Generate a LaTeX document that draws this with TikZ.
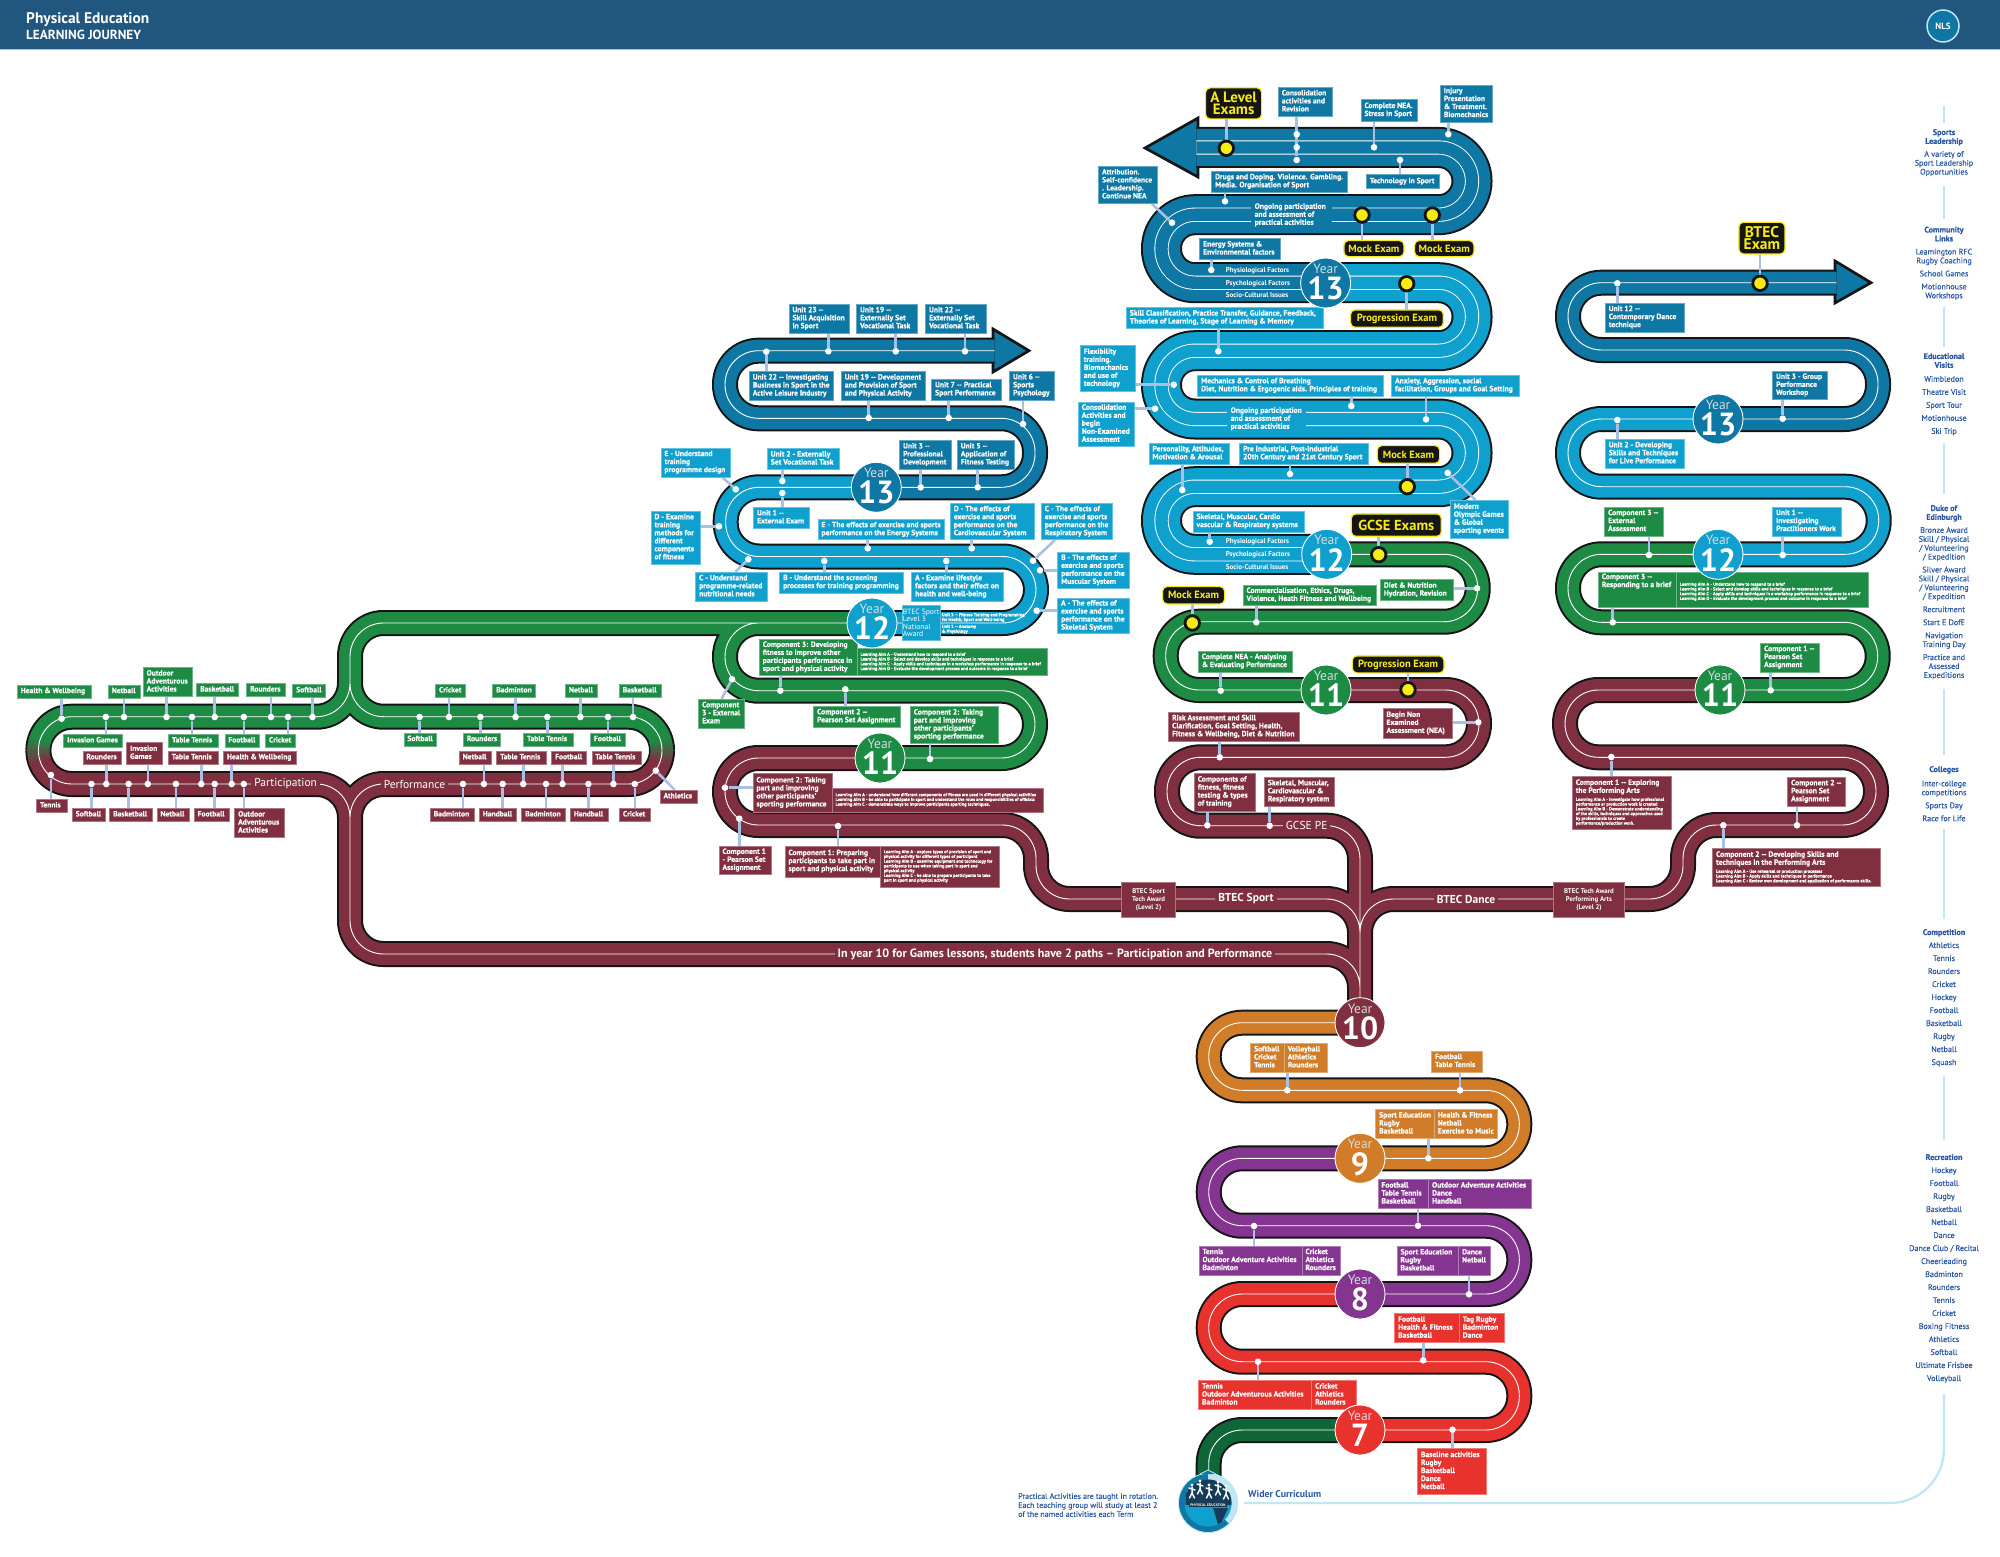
\documentclass[tikz,border=0pt]{standalone}
\usepackage{fontspec}
\setmainfont{PT Sans}
\newfontfamily\rcfont[FakeBold=0.3]{PT Sans}
\newfontfamily\bxfam[BoldFeatures={FakeBold=0.4}]{PT Sans}
\usetikzlibrary{calc}
\pgfdeclarelayer{track}\pgfdeclarelayer{cn}
\pgfsetlayers{track,cn,main}
\definecolor{cdark}{HTML}{0F77A3}\definecolor{clight}{HTML}{10A0CE}\definecolor{cgreen}{HTML}{1E8B45}
\definecolor{cmaroon}{HTML}{7F2F40}\definecolor{corange}{HTML}{D07C28}\definecolor{cpurple}{HTML}{84358F}
\definecolor{cred}{HTML}{E8322D}\definecolor{cdgreen}{HTML}{0F6636}\definecolor{chead}{HTML}{21567F}
\definecolor{ctext}{HTML}{2B57A5}\definecolor{cconn}{HTML}{A9C0E4}\definecolor{cpale}{HTML}{BFE6F5}
\definecolor{cyel}{HTML}{F9EA14}\definecolor{cblk}{HTML}{151515}\definecolor{cyear}{HTML}{D5DCE0}
\def\bxfontN{\bxfam\fontsize{7.6}{8}\selectfont\bfseries}
\def\bxfontS{\bxfam\fontsize{4.5}{4.75}\selectfont\bfseries}
\let\bxfont\bxfontN
\newcommand{\sm}[1]{\fontsize{4.5}{4.75}\selectfont\begin{tabular}[t]{@{}l@{}}#1\end{tabular}}
\tikzset{
 tb/.style={line width=26pt,draw=cblk,rounded corners=33.5pt},
 tf/.style={line width=22pt,rounded corners=33.5pt},
 tw/.style={line width=.9pt,draw=white,rounded corners=33.5pt},
 wb/.style={line width=41pt,draw=cblk,rounded corners=33.5pt},
 wf/.style={line width=37pt,rounded corners=33.5pt},
 wl/.style={line width=14.2pt,draw=white,rounded corners=33.5pt},
 wg/.style={line width=12.4pt,rounded corners=33.5pt},
 conn/.style={line width=2.6pt,draw=cconn},
 boxn/.style={inner sep=0pt,font=\bxfont,text=white},
 wdot/.style={circle,fill=white,inner sep=0pt,minimum size=6.6pt},
 ydot/.style={circle,fill=cyel,draw=cblk,line width=2.8pt,inner sep=0pt,minimum size=14.5pt},
 pilln/.style={fill=cblk,draw=cyel,line width=1.2pt,rounded corners=4.5pt,inner sep=0pt,text=cyel,align=center},
 trklab/.style={font=\fontsize{11.5}{12}\selectfont,text=white,inner xsep=3pt,inner ysep=0pt},
 factn/.style={font=\fontsize{7}{8}\selectfont\bfseries,text=white,anchor=west,inner sep=0pt},
 rtxt/.style={font=\rcfont\fontsize{8.1}{8.9}\selectfont,text=ctext,align=center,anchor=north,inner sep=0pt},
 rline/.style={line width=2.3pt,draw=cpale},
 yrc/.style={circle,draw=white,line width=0.9pt,inner sep=0pt,minimum size=50pt},
 yrw/.style={font=\fontsize{13.5}{14}\selectfont,text=cyear,inner sep=0pt},
 yrn/.style={font=\fontsize{32}{32}\selectfont\bfseries,text=white,inner sep=0pt},
}
\newcommand{\tr}[2]{\draw[tb]#2;\draw[tf,draw=#1]#2;\draw[tw]#2;}
\newcommand{\trw}[2]{\draw[wb]#2;\draw[wf,draw=#1]#2;\draw[wl]#2;\draw[wg,draw=#1]#2;}
\newcommand{\bx}[7]{\pgfmathsetmacro\rsW{#5-#3}\pgfmathsetmacro\rsH{#6-#4}%
 \node[boxn,fill=#2,draw=#2!65!white,line width=.6pt,minimum width=\rsW pt,minimum height=\rsH pt,anchor=north west] (#1) at (#3,#4)
 {\makebox[\rsW pt][l]{\hspace{3.5pt}\begin{tabular}{@{}l@{}}#7\end{tabular}}};}
\newcommand{\bl}[7]{\pgfmathsetmacro\rsW{#5-#3}\pgfmathsetmacro\rsH{#6-#4}%
 \node[boxn,fill=#2,minimum width=\rsW pt,minimum height=\rsH pt,anchor=north west] (#1) at (#3,#4)
 {\makebox[\rsW pt][l]{\hspace{3.5pt}\begin{tabular}{@{}l@{}}#7\end{tabular}}};}
\newcommand{\cv}[9]{\bx{#1}{#2}{#3}{#4}{#5}{#6}{#9}\node[wdot] (#1d) at (#7,#8) {};%
 \begin{pgfonlayer}{cn}\draw[conn] (#1d) -- (#1d |- #1);\end{pgfonlayer}}
\newcommand{\ch}[9]{\bx{#1}{#2}{#3}{#4}{#5}{#6}{#9}\node[wdot] (#1d) at (#7,#8) {};%
 \begin{pgfonlayer}{cn}\draw[conn] (#1d) -- (#1d -| #1);\end{pgfonlayer}}
\newcommand{\cdg}[9]{\bx{#1}{#2}{#3}{#4}{#5}{#6}{#9}\node[wdot] (#1d) at (#7,#8) {};}
\newcommand{\dl}[2]{\begin{pgfonlayer}{cn}\draw[conn] (#1d) -- (#2);\end{pgfonlayer}}
\newcommand{\pl}[9]{\pgfmathsetmacro\rsW{#4-#2}\pgfmathsetmacro\rsH{#5-#3}\pgfmathsetmacro\rsL{#6*.8}%
 \node[pilln,font=\fontsize{#6}{\rsL}\selectfont\bfseries,minimum width=\rsW pt,minimum height=\rsH pt,anchor=north west] (#1) at (#2,#3) {#9};%
 \node[ydot] (#1d) at (#7,#8) {};%
 \begin{pgfonlayer}{cn}\draw[conn] (#1d) -- (#1d |- #1);\end{pgfonlayer}}
\newcommand{\yr}[5]{\node[yrc,fill=#4] (#1) at (#2,#3) {};
 \node[yrw] (#1w) at ($(#1)+(0,-14.3)$) {Year};
 \node[yrn] (#1n) at ($(#1)+(0,5.5)$) {#5};}
\newcommand{\rc}[3]{\node[rtxt] (#1) at (1944,#2) {#3};}
\begin{document}
\begin{tikzpicture}[x=1pt,y=-1pt]
\useasboundingbox (0,0) rectangle (2000,1557);
\begin{pgfonlayer}{track}
% header
\fill[chead] (0,0) rectangle (2000,49);
\fill[cconn] (0,49) rectangle (2000,50);
% arrowheads
\draw[line width=2.7pt,draw=cblk,fill=cdark,line join=miter] (1145,148)--(1198,118)--(1198,177)--cycle;
\draw[line width=2.7pt,draw=cblk,fill=cdark,line join=miter] (1029,350.7)--(993,329)--(993,372)--cycle;
\draw[line width=2.7pt,draw=cblk,fill=cdark,line join=miter] (1871,282.7)--(1835,261)--(1835,303)--cycle;
% A level
\trw{cdark}{(1196.4,147.5)--(1472,147.5)--(1472,214.7)--(1161.5,214.7)--(1161.5,282.7)--(1325.6,282.7)}
\trw{clight}{(1325.6,282.7)--(1472,282.7)--(1472,350.7)--(1161.5,350.7)--(1161.5,419)--(1472,419)--(1472,486.7)--(1161.5,486.7)--(1161.5,554.3)--(1326.7,554.3)}
\tr{cgreen}{(1326.7,554.3)--(1477.7,554.3)--(1477.7,621.7)--(1165.7,621.7)--(1165.7,690)--(1326,690)}
% BTEC Sport upper
\tr{cdark}{(994.6,350.7)--(725,350.7)--(725,418.3)--(1035,418.3)--(1035,487.3)--(876.3,487.3)}
\tr{clight}{(876.3,487.3)--(725.7,487.3)--(725.7,556.5)--(1036,556.5)--(1036,623)--(872,623)}
% BTEC Dance upper
\tr{cdark}{(1836.6,282.7)--(1568,282.7)--(1568,350)--(1878,350)--(1878,419)--(1718,419)}
\tr{clight}{(1718,419)--(1568,419)--(1568,486.7)--(1878.7,486.7)--(1878.7,554.3)--(1718,554.3)}
\tr{cgreen}{(1718,554.3)--(1568,554.3)--(1568,622.3)--(1877.7,622.3)--(1877.7,690)--(1720,690)}
% Lower years
\tr{corange}{(1360,1022.7)--(1208.7,1022.7)--(1208.7,1090.3)--(1519.3,1090.3)--(1519.3,1158.3)--(1360,1158.3)}
\tr{cpurple}{(1360,1158.3)--(1208.7,1158.3)--(1208.7,1225.7)--(1519.3,1225.7)--(1519.3,1294)--(1360,1294)}
\tr{cred}{(1360,1294)--(1208.7,1294)--(1208.7,1361.7)--(1519.3,1361.7)--(1519.3,1430)--(1360,1430)}
\tr{cdgreen}{(1360,1430)--(1208.7,1430)--(1208.7,1482)}
% networks
\def\gnet{(872,623)--(350,623)--(350,716.7)--(38.4,716.7)--(38.4,750.35)
 (350,665)--(350,716.7)--(662,716.7)--(662,750.35)
 (880,758)--(1035,758)--(1035,690.7)--(725,690.7)--(725,623)--(800,623)}
\def\mnet{(38.4,750.35)--(38.4,784)--(350,784)--(350,954)--(1360,954)--(1360,1005)
 (662,750.35)--(662,784)--(350,784)--(350,870)
 (880,758)--(725,758)--(725,825)--(1036,825)--(1036,899)--(1360,899)--(1360,1005)
 (1720,690)--(1565,690)--(1565,757.3)--(1876,757.3)--(1876,825)--(1683,825)--(1683,899)--(1360,899)--(1360,960)
 (1326,690)--(1479,690)--(1479,757.3)--(1167,757.3)--(1167,825.7)--(1360,825.7)--(1360,960)}
\draw[tb]\gnet;\draw[tb]\mnet;
\draw[tf,draw=cgreen]\gnet;\draw[tf,draw=cmaroon]\mnet;
\foreach \i in {0,...,19}{
 \pgfmathsetmacro\aa{200-2*\i}\pgfmathsetmacro\ab{\aa-2.6}\pgfmathsetmacro\pp{100-5*\i}
 \draw[line width=22pt,draw=cgreen!\pp!cmaroon] ({72+33.65*cos(\aa)},{750.35+33.65*sin(\aa)})--({72+33.65*cos(\ab)},{750.35+33.65*sin(\ab)});
 \pgfmathsetmacro\ac{-20+2*\i}\pgfmathsetmacro\ad{\ac+2.6}
 \draw[line width=22pt,draw=cgreen!\pp!cmaroon] ({628+33.65*cos(\ac)},{750.35+33.65*sin(\ac)})--({628+33.65*cos(\ad)},{750.35+33.65*sin(\ad)});
}
\draw[tw]\gnet;\draw[tw]\mnet;
\end{pgfonlayer}
% right-hand line
\coordinate (wcs) at (1244,1503);\coordinate (wcc) at (1944,1503);\coordinate (wce) at (1944,1394.7);
\draw[rline,rounded corners=54pt] (wcs)--(wcc)--(wce);
\foreach \p/\q in {105.7/123,186/219.4,306.7/346.8,443/494,689/755,829.4/919,1075.5/1139.6}{\draw[rline] (1944,\p)--(1944,\q);}
% header text
\node[inner sep=0pt,anchor=west,text=white,font=\fontsize{15.4}{16}\selectfont\bfseries] (htitle) at (26,20) {Physical Education};
\node[inner sep=0pt,anchor=west,text=white,font=\fontsize{13.2}{14}\selectfont\bfseries] (hsub) at (26,35) {LEARNING JOURNEY};
\node[circle,fill=cdark,draw=cpale,line width=1.5pt,minimum size=32pt,inner sep=0pt,text=white,font=\fontsize{9}{9}\selectfont\bfseries] (nls) at (1943,26) {NLS};
%% ===== A LEVEL =====
\pl{pA}{1205}{87.3}{1261}{118.3}{15}{1226.3}{148.3}{A Level\\Exams}
\cv{aCons}{cdark}{1278}{87.3}{1332}{115.7}{1296.7}{160}{Consolidation\\activities and\\Revision}
\node[wdot] (aConsb) at (1296.7,134.3) {};\node[wdot] (aConsc) at (1296.7,147.3) {};
\cv{aNEA}{cdark}{1360.7}{99.3}{1417.3}{121}{1374}{147.3}{Complete NEA.\\Stress in Sport}
\cv{aInj}{cdark}{1440}{84.7}{1492.3}{121.7}{1448.3}{134.3}{Injury\\Presentation\\\& Treatment.\\Biomechanics}
\cv{aTech}{cdark}{1366}{174.3}{1439.3}{188.3}{1400}{160}{Technology in Sport}
\cv{aDrug}{cdark}{1211.3}{171}{1346.7}{191.7}{1225}{201.3}{Drugs and Doping. Violence. Gambling.\\Media. Organisation of Sport}
\cdg{aAttr}{cdark}{1098.3}{165.7}{1157.3}{203.3}{1172}{222.7}{Attribution.\\Self-confidence\\. Leadership.\\Continue NEA}
\dl{aAttr}{[xshift=-6pt]aAttr.south east}
\cv{aEnergy}{cdark}{1199.3}{238}{1280}{259.3}{1211.3}{270}{Energy Systems \&\\Environmental factors}
\pl{pMa}{1343.3}{240}{1403.3}{256}{10.5}{1362}{215}{Mock Exam}
\pl{pMb}{1414}{240}{1473.3}{256}{10.5}{1432.3}{215}{Mock Exam}
\pl{pPa}{1350}{309.3}{1442.7}{326.7}{10.5}{1406.7}{283.7}{Progression Exam}
\cv{aSkill}{clight}{1126}{307.3}{1323.3}{328}{1218.3}{351.3}{Skill Classification, Practice Transfer, Guidance, Feedback,\\Theories of Learning, Stage of Learning \& Memory}
\ch{aFlex}{clight}{1080}{345.3}{1135}{390.7}{1173.7}{384.7}{Flexibility\\training.\\Biomechanics\\and use of\\technology}
\ch{aConsA}{clight}{1078}{401.7}{1134.3}{446}{1155}{408.7}{Consolidation\\Activities and\\begin\\Non-Examined\\Assessment}
\cv{aMech}{clight}{1197.3}{374.7}{1382.7}{396}{1351.3}{406}{Mechanics \& Control of Breathing\\Diet, Nutrition \& Ergogenic aids. Principles of training}
\cv{aAnx}{clight}{1391.3}{374.7}{1519.3}{396}{1426}{419.3}{Anxiety, Aggression, social\\facilitation, Groups and Goal Setting}
\cv{aPers}{clight}{1148.7}{442.7}{1229.3}{464}{1182.3}{490}{Personality, Attitudes,\\Motivation \& Arousal}
\cv{aPre}{clight}{1239.3}{442.7}{1367.7}{464}{1290}{474}{Pre Industrial, Post-industrial\\20th Century and 21st Century Sport}
\pl{pMc}{1376.7}{445}{1439}{462.7}{10.5}{1407.3}{486.7}{Mock Exam}
\cdg{aMod}{clight}{1450}{500}{1508.3}{537.7}{1447.7}{473}{Modern\\Olympic Games\\\& Global\\sporting events}
\dl{aMod}{[xshift=-4pt]aMod.north}
\cv{aSkel}{clight}{1192.7}{510.7}{1304}{531.7}{1209.7}{541.7}{Skeletal, Muscular, Cardio\\vascular \& Respiratory systems}
\pl{pG}{1350.7}{513.3}{1440.7}{535.7}{14.5}{1378.7}{554.7}{GCSE Exams}
\ch{aDiet}{cgreen}{1380}{579.3}{1452.7}{600.3}{1477}{588.3}{Diet \& Nutrition\\Hydration, Revision}
\pl{pMd}{1162}{586}{1224}{603.3}{10.5}{1192.3}{623}{Mock Exam}
\cv{aComm}{cgreen}{1242.7}{584.7}{1375.7}{605.3}{1256.3}{622.3}{Commercialisation, Ethics, Drugs,\\Violence, Heath Fitness and Wellbeing}
\cv{aCNEA}{cgreen}{1198}{650.7}{1291.7}{671.7}{1220.7}{690.7}{Complete NEA - Analysing\\\& Evaluating Performance}
\pl{pPb}{1351.7}{655.3}{1443.3}{672.3}{10.5}{1408}{689.7}{Progression Exam}
\ch{aBegin}{cmaroon}{1382.7}{708.3}{1452.3}{737.7}{1478.3}{722.3}{Begin Non\\Examined\\Assessment (NEA)}
\cv{aRisk}{cmaroon}{1168.3}{711.7}{1299}{741}{1219.7}{757.3}{Risk Assessment and Skill\\Clarification, Goal Setting, Health,\\Fitness \& Wellbeing, Diet \& Nutrition}
\cv{aComp}{cmaroon}{1194}{772.7}{1255}{810.7}{1207.3}{825.3}{Components of\\fitness, fitness\\testing \& types\\of training}
\cv{aSkM}{cmaroon}{1264}{776.7}{1333.7}{806}{1269.7}{825.7}{Skeletal, Muscular,\\Cardiovascular \&\\Respiratory system}
% band labels
\bl{lOnA}{cdark}{1251}{203}{1332}{227}{Ongoing participation\\and assessment of\\practical activities}
\bl{lOnB}{clight}{1227}{407}{1306}{431}{Ongoing participation\\and assessment of\\practical activities}
\node[factn] (fa) at (1225.7,270.3) {Physiological  Factors};
\node[factn] (fb) at (1225.7,283.3) {Psychological Factors};
\node[factn] (fc) at (1225.7,295.3) {Socio-Cultural Issues};
\node[factn] (fd) at (1225.7,541.7) {Physiological  Factors};
\node[factn] (fe) at (1225.7,554.7) {Psychological Factors};
\node[factn] (ff) at (1225.7,567.3) {Socio-Cultural Issues};
\node[trklab,fill=cmaroon] (lGCSE) at (1306.7,825.7) {GCSE PE};
%% ===== BTEC SPORT =====
\cv{sU23}{cdark}{788.7}{304}{849.3}{332.7}{828.3}{351.3}{Unit 23 --\\Skill Acquisition\\in Sport}
\cv{sU19}{cdark}{856.3}{304}{917}{332.7}{895.7}{351.3}{Unit 19 --\\Externally Set\\Vocational Task}
\cv{sU22}{cdark}{925.3}{304}{986.3}{332.7}{965}{351.3}{Unit 22 --\\Externally Set\\Vocational Task}
\cv{sU22b}{cdark}{749}{371.3}{833.3}{400}{766.3}{351.7}{Unit 22 -- Investigating\\Business in Sport in the\\Active Leisure Industry}
\cv{sU19b}{cdark}{841}{371.3}{925.3}{400}{868.7}{418}{Unit 19 -- Development\\and Provision of Sport\\and Physical Activity}
\cv{sU7}{cdark}{931.3}{378.7}{1000.7}{400}{948.7}{418}{Unit 7 -- Practical\\Sport Performance}
\cv{sU6}{cdark}{1009.3}{370.7}{1053.7}{400}{1023}{424}{Unit 6 --\\Sports\\Psychology}
\cv{sU3}{cdark}{899.3}{440}{950.7}{469}{920.7}{487.3}{Unit 3 --\\Professional\\Development}
\cv{sU5}{cdark}{957}{440}{1014}{469}{977.7}{487.3}{Unit 5 --\\Application of\\Fitness Testing}
\cdg{sEu}{clight}{660.7}{447.7}{729.7}{476.7}{735.7}{489.3}{E - Understand\\training\\programme design}
\dl{sEu}{[xshift=-8pt]sEu.south east}
\cv{sU2}{clight}{767}{448.3}{839.3}{469}{782.3}{481}{Unit 2 - Externally\\Set Vocational Task}
\cv{sU1}{clight}{753.3}{507.3}{809.3}{527.7}{782.3}{493}{Unit 1 --\\External Exam}
\ch{sDe}{clight}{650.7}{510.7}{700.3}{564}{719}{526.3}{D - Examine\\training\\methods for\\different\\components\\of fitness}
\cv{sEe}{clight}{817.7}{519.3}{944.3}{539.3}{867.7}{548.3}{E - The effects of exercise and sports\\performance on the Energy Systems}
\cv{sDf}{clight}{950}{503.3}{1033.7}{539.3}{971.7}{548.3}{D - The effects of\\exercise and sports\\performance on the\\Cardiovascular System}
\cdg{sCf}{clight}{1041}{503.3}{1112}{539.3}{1033}{560.7}{C - The effects of\\exercise and sports\\performance on the\\Respiratory System}
\dl{sCf}{[xshift=14pt]sCf.south west}
\ch{sBf}{clight}{1057.3}{552}{1129.3}{588}{1040}{570.3}{B - The effects of\\exercise and sports\\performance on the\\Muscular System}
\ch{sAf}{clight}{1057.3}{598}{1129.3}{633.3}{1036.7}{610.7}{A - The effects of\\exercise and sports\\performance on the\\Skeletal System}
\cdg{sCu}{clight}{695.3}{571.7}{767}{601}{748.3}{559.3}{C - Understand\\programme-related\\nutritional needs}
\dl{sCu}{[xshift=4pt]sCu.north}
\cv{sBu}{clight}{779.3}{571.7}{903.3}{592.7}{824.3}{561}{B - Understand the screening\\processes for training programming}
\cv{sAe}{clight}{911.3}{571.7}{1003}{601}{946.3}{561}{A - Examine lifestyle\\factors and their effect on\\health and well-being}
\node[boxn,fill=clight,draw=clight!65!white,line width=.6pt,minimum width=38.3pt,minimum height=35pt,anchor=north west,font=\fontsize{7.6}{7.5}\selectfont,align=left] (sBt) at (901.7,605) {BTEC Sport\\Level 3\\National\\Award};
\node[boxn,font=\bxfontS,align=left,anchor=west] (sUs) at (941.7,617.5) {Unit 3 -- Fitness Training and Programming\\for Health, Sport and Well-being};
\node[boxn,font=\bxfontS,align=left,anchor=west] (sUt) at (941.7,629.2) {Unit 1 -- Anatomy\\\& Physiology};
\cv{sC3}{cgreen}{759}{639}{856.7}{675}{780.3}{690.7}{Component 3: Developing\\fitness to improve other\\participants performance in\\sport and physical activity}
\let\bxfont\bxfontS
\bx{sC3a}{cgreen}{856.7}{648.3}{1046.7}{675}{Learning Aim A - Understand how to respond to a brief\\Learning Aim B - Select and develop skills and techniques in response to a brief\\Learning Aim C - Apply skills and techniques in a workshop performance in response to a brief\\Learning Aim D - Evaluate the development process and outcome in response to a brief}
\let\bxfont\bxfontN
\cdg{sC3e}{cgreen}{698.3}{699}{744}{727.7}{732}{679.3}{Component\\3 - External\\Exam}
\dl{sC3e}{sC3e.north}
\cv{sC2p}{cgreen}{813.3}{706}{900}{726.7}{845.3}{689.3}{Component 2 --\\Pearson Set Assignment}
\cv{sC2t}{cgreen}{910}{706}{997.7}{743.3}{930}{759}{Component 2: Taking\\part and improving\\other participants'\\sporting performance}
\ch{sC2m}{cmaroon}{752.7}{773.3}{831.7}{811.7}{725}{787.7}{Component 2: Taking\\part and improving\\other participants'\\sporting performance}
\let\bxfont\bxfontS
\bx{sC2a}{cmaroon}{831.7}{787.7}{1043.3}{811.7}{Learning Aim A - understand how different components of fitness are used in different physical activities\\Learning Aim B - be able to participate in sport and understand the roles and responsibilities of officials\\Learning Aim C - demonstrate ways to improve participants sporting techniques.}
\let\bxfont\bxfontN
\cv{sC1p}{cmaroon}{718.7}{845.7}{770.7}{874.3}{739.3}{818.7}{Component 1\\- Pearson Set\\Assignment}
\cv{sC1m}{cmaroon}{784.7}{845.7}{880}{876.7}{838}{826}{Component 1: Preparing\\participants to take part in\\sport and physical activity}
\let\bxfont\bxfontS
\bx{sC1a}{cmaroon}{880}{845.7}{999.3}{886.7}{Learning Aim A - explore types of provision of sport and\\physical activity for different types of participant\\Learning Aim B - examine equipment and technology for\\participants to use when taking part in sport and\\physical activity\\Learning Aim C - be able to prepare participants to take\\part in sport and physical activity}
\let\bxfont\bxfontN
\node[boxn,fill=cmaroon,draw=cmaroon!65!white,line width=.6pt,minimum width=54pt,minimum height=35.6pt,anchor=north west,font=\fontsize{6.8}{7.8}\selectfont\bfseries,align=center] (sTA) at (1121.3,881.7) {BTEC Sport\\Tech Award\\(Level 2)};
\node[trklab,fill=cmaroon,font=\fontsize{11.5}{12}\selectfont\bfseries] (lBS) at (1246,899) {BTEC Sport};
\node[trklab,fill=cmaroon,font=\fontsize{11.5}{12}\selectfont\bfseries] (lBD) at (1466,899) {BTEC Dance};
\node[boxn,fill=cmaroon,draw=cmaroon!65!white,line width=.6pt,minimum width=70.7pt,minimum height=35.6pt,anchor=north west,font=\fontsize{6.8}{7.8}\selectfont\bfseries,align=center] (dTA) at (1553.3,881.7) {BTEC Tech Award\\Performing Arts\\(Level 2)};
\node[trklab,fill=cmaroon,font=\fontsize{12}{12}\selectfont\bfseries] (lIn) at (1055,954) {In year 10 for Games lessons, students have 2 paths -- Participation and Performance};
\node[trklab,fill=cmaroon] (lPa) at (285.7,784) {Participation};
\node[trklab,fill=cmaroon] (lPe) at (414.5,784) {Performance};
%% ===== PARTICIPATION =====
\cv{pG1}{cgreen}{17}{684.7}{90.6}{697.7}{61.6}{718.7}{Health \& Wellbeing}
\cv{pG2}{cgreen}{108}{684.7}{139.7}{697.7}{124}{717}{Netball}
\cv{pG3}{cgreen}{142.9}{667.3}{191.5}{696}{166.5}{717}{Outdoor\\Adventurous\\Activities}
\cv{pG4}{cgreen}{196.4}{683.3}{238}{696}{214.7}{717}{Basketball}
\cv{pG5}{cgreen}{246.4}{683.3}{284.8}{696}{271}{717}{Rounders}
\cv{pG6}{cgreen}{292.4}{684}{325.4}{696.7}{312.5}{717}{Softball}
\cv{pH1}{cgreen}{63.4}{734}{121.9}{747}{105.8}{717}{Invasion Games}
\cv{pH2}{cgreen}{168.3}{734}{217.9}{747}{192}{717}{Table Tennis}
\cv{pH3}{cgreen}{224.6}{734}{259.4}{747}{243.8}{717}{Football}
\cv{pH4}{cgreen}{265.2}{734}{295}{747}{288}{717}{Cricket}
\cv{pM1}{cmaroon}{82.6}{751}{121.4}{763.7}{106.3}{784}{Rounders}
\cv{pM2}{cmaroon}{126.3}{742.3}{162}{763.7}{147.8}{784}{Invasion\\Games}
\cv{pM3}{cmaroon}{167.9}{751}{217.9}{763.7}{201.3}{784}{Table Tennis}
\cv{pM4}{cmaroon}{223.2}{751}{295.5}{763.7}{231.7}{784}{Health \& Wellbeing}
\cv{pN1}{cmaroon}{36.2}{799}{66.5}{812}{50.9}{775}{Tennis}
\cv{pN2}{cmaroon}{71.9}{808}{104.9}{821}{91.5}{784}{Softball}
\cv{pN3}{cmaroon}{109.4}{808}{151.8}{821}{128.6}{784}{Basketball}
\cv{pN4}{cmaroon}{156.7}{808}{188.8}{821}{175.9}{784}{Netball}
\cv{pN5}{cmaroon}{193.8}{808}{228.6}{821}{214.7}{784}{Football}
\cv{pN6}{cmaroon}{234.4}{808}{283.5}{837.3}{243.8}{784}{Outdoor\\Adventurous\\Activities}
%% ===== PERFORMANCE =====
\cv{qG1}{cgreen}{435.3}{684}{464.7}{697}{449}{717}{Cricket}
\cv{qG2}{cgreen}{492.4}{684}{535.3}{697}{515.6}{717}{Badminton}
\cv{qG3}{cgreen}{565.2}{684}{596.9}{697}{580.4}{717}{Netball}
\cv{qG4}{cgreen}{618.8}{684}{660.7}{697}{633}{717}{Basketball}
\cv{qH1}{cgreen}{403.6}{732.7}{436.2}{745.7}{419.6}{717}{Softball}
\cv{qH2}{cgreen}{463}{732.7}{500.4}{745.7}{480.4}{717}{Rounders}
\cv{qH3}{cgreen}{523.2}{732.7}{573.2}{745.7}{547.3}{717}{Table Tennis}
\cv{qH4}{cgreen}{590.2}{732.7}{624.6}{745.7}{608}{717}{Football}
\cv{qM1}{cmaroon}{458.9}{751}{491}{763.7}{483.9}{784}{Netball}
\cv{qM2}{cmaroon}{496.4}{751}{546}{763.7}{523.2}{784}{Table Tennis}
\cv{qM3}{cmaroon}{551.3}{751}{586.2}{763.7}{562.5}{784}{Football}
\cv{qM4}{cmaroon}{591.5}{751}{641}{763.7}{613.4}{784}{Table Tennis}
\cv{qN1}{cmaroon}{429.9}{808}{473.7}{821}{463}{784}{Badminton}
\cv{qN2}{cmaroon}{479}{808}{516}{821}{502.7}{784}{Handball}
\cv{qN3}{cmaroon}{521.4}{808}{565.2}{821}{546}{784}{Badminton}
\cv{qN4}{cmaroon}{570}{808}{607.6}{821}{588.4}{784}{Handball}
\cv{qN5}{cmaroon}{619.2}{808}{649.6}{821}{634.8}{784}{Cricket}
\cdg{qAth}{cmaroon}{659.8}{790}{697.3}{802.7}{655.8}{770.7}{Athletics}
\dl{qAth}{[xshift=-4pt]qAth.north}
%% ===== BTEC DANCE =====
\pl{pBT}{1738.3}{221.7}{1784.3}{253.3}{15.5}{1760}{283.3}{BTEC\\Exam}
\cv{dU12}{cdark}{1605}{302.7}{1684.3}{331.7}{1617.3}{283.3}{Unit 12 --\\Contemporary Dance\\technique}
\cv{dU3}{cdark}{1772.3}{370.7}{1827.3}{399.3}{1782.7}{418.7}{Unit 3 - Group\\Performance\\Workshop}
\cv{dU2}{clight}{1605}{438.7}{1684.3}{468}{1617.3}{420}{Unit 2 - Developing\\Skills and Techniques\\for Live Performance}
\cv{dC3e}{cgreen}{1604.3}{506.7}{1662.7}{535.7}{1649}{555}{Component 3 --\\External\\Assessment}
\cv{dU1}{clight}{1772.3}{506.7}{1841.3}{535.7}{1782.7}{555}{Unit 1 --\\Investigating\\Practitioners Work}
\cv{dC3r}{cgreen}{1598}{571.7}{1676}{606.7}{1612.7}{622.3}{Component 3 --\\Responding to a brief\\~\\~}
\let\bxfont\bxfontS
\bx{dC3a}{cgreen}{1676}{571.7}{1867.7}{606.7}{~\\Learning Aim A - Understand how to respond to a brief\\Learning Aim B - Select and develop skills and techniques in response to a brief\\Learning Aim C - Apply skills and techniques in a workshop performance in response to a brief\\Learning Aim D - Evaluate the development process and outcome in response to a brief}
\let\bxfont\bxfontN
\cv{dC1p}{cgreen}{1760.3}{642.7}{1818.7}{671.7}{1770.7}{690.3}{Component 1 --\\Pearson Set\\Assignment}
\cv{dC1e}{cmaroon}{1572}{776}{1670.7}{828.7}{1611.3}{757}{Component 1 -- Exploring\\the Performing Arts\\\sm{Learning Aim A - Investigate how professional\\performance or production work is created\\Learning Aim B - Demonstrate understanding\\of the skills, techniques and approaches used\\by professionals to create\\performance/production work.}}
\cv{dC2p}{cmaroon}{1787.3}{777}{1845.3}{805.7}{1797}{825.3}{Component 2 --\\Pearson Set\\Assignment}
\cv{dC2d}{cmaroon}{1712.3}{848.3}{1879.7}{886}{1723.3}{825.3}{Component 2 -- Developing Skills and\\techniques in the Performing Arts\\\sm{Learning Aim A - Use rehearsal or production processes\\Learning Aim B - Apply skills and techniques in performance\\Learning Aim C - Review own development and application of performance skills.}}
%% ===== LOWER YEARS =====
\cv{kA1}{corange}{1250.3}{1043.3}{1284}{1071.7}{1287.3}{1090.3}{Softball\\Cricket\\Tennis}
\bx{kA2}{corange}{1284}{1043.3}{1326.7}{1071.7}{Volleyball\\Athletics\\Rounders}
\cv{kB}{corange}{1431.3}{1050.7}{1481.7}{1071.7}{1460}{1090.3}{Football\\Table Tennis}
\bx{kD2}{corange}{1434}{1109.3}{1497}{1138}{Health \& Fitness\\Netball\\Exercise to Music}
\cv{kD1}{corange}{1375.3}{1109.3}{1434}{1138}{1428.3}{1158.3}{Sport Education\\Rugby\\Basketball}
\bx{kE2}{cpurple}{1428.3}{1179.3}{1531}{1208}{Outdoor Adventure Activities\\Dance\\Handball}
\cv{kE1}{cpurple}{1377.7}{1179.3}{1428.3}{1208}{1418}{1225.7}{Football\\Table Tennis\\Basketball}
\cv{kF1}{cpurple}{1198.7}{1245.7}{1301.7}{1274.7}{1254}{1226}{Tennis\\Outdoor Adventure Activities\\Badminton}
\bx{kF2}{cpurple}{1301.7}{1245.7}{1339.7}{1274.7}{Cricket\\Athletics\\Rounders}
\cv{kG2}{cpurple}{1458.3}{1246}{1490.3}{1275}{1469}{1294.3}{Dance\\Netball\\~}
\bx{kG1}{cpurple}{1396.7}{1246}{1458.3}{1275}{Sport Education\\Rugby\\Basketball}
\cv{kH1}{cred}{1394.3}{1313.3}{1458.9}{1342.3}{1423.2}{1360.3}{Football\\Health \& Fitness\\Basketball}
\bx{kH2}{cred}{1458.9}{1313.3}{1503.6}{1342.3}{Tag Rugby\\Badminton\\Dance}
\cv{kJ1}{cred}{1198.2}{1380.3}{1311.4}{1409}{1257.9}{1361.7}{Tennis\\Outdoor Adventurous Activities\\Badminton}
\bx{kJ2}{cred}{1311.4}{1380.3}{1356}{1409}{Cricket\\Athletics\\Rounders}
\cv{kK}{cred}{1417.1}{1448.3}{1486.4}{1494}{1452.5}{1429.7}{Baseline activities\\Rugby\\Basketball\\Dance\\Netball}
%% ===== YEAR CIRCLES =====
\yr{yA13}{1325.6}{283}{cdark}{13}
\yr{yA12}{1326.7}{554.3}{clight}{12}
\yr{yA11}{1326}{690}{cgreen}{11}
\yr{yS13}{876.3}{487.3}{cdark}{13}
\yr{yS12}{872}{623}{clight}{12}
\yr{yS11}{880}{758}{cgreen}{11}
\yr{yD13}{1718}{419}{cdark}{13}
\yr{yD12}{1718}{554.3}{clight}{12}
\yr{yD11}{1720}{690}{cgreen}{11}
\yr{yL10}{1360}{1022.7}{cmaroon}{10}
\yr{yL9}{1360}{1158.3}{corange}{9}
\yr{yL8}{1360}{1294}{cpurple}{8}
\yr{yL7}{1360}{1430}{cred}{7}
%% ===== LOGO =====
\node[circle,fill=cdark,draw=cpale,line width=.8pt,minimum size=59pt,inner sep=0pt] (logo) at (1208,1503) {};
\fill[cpale] (logo.north) arc[start angle=90,end angle=-45,radius=29.5pt] -- (logo.center) -- cycle;
\fill[cdark] (logo) circle[radius=23.5pt];
\begin{scope}
\clip (logo) circle[radius=23.5pt];
\fill[clight] (1180,1505) rectangle (1236,1530);
\fill[chead!70!black] (1186,1478) rectangle (1232,1505);
\fill[chead!70!black] (1213,1508) -- (1228,1508) -- (1219,1528) -- cycle;
\end{scope}
\draw[cpale,line width=.8pt,fill=cdark,line join=round] (1200,1474)--(1208,1470)--(1216,1474);
\foreach \x/\y in {1192/1490,1200/1486,1209/1490,1218/1487,1226/1491}{
 \fill[white] (\x,\y-5) circle[radius=1.6pt];
 \draw[white,line width=1.5pt,line cap=round] (\x,\y-3)--(\x,\y+3) (\x-3,\y-2)--(\x+3,\y) (\x,\y+3)--(\x-2.5,\y+8) (\x,\y+3)--(\x+2.5,\y+8);
}
\node[fill=chead!60!black,inner ysep=.8pt,inner xsep=1pt,text=white,font=\fontsize{3.7}{4}\selectfont\bfseries] (logot) at (1208,1505) {PHYSICAL EDUCATION};
\node[inner sep=0pt,anchor=west,text=ctext,font=\fontsize{9.8}{10}\selectfont\bfseries] (wc) at (1248,1494) {Wider Curriculum};
\node[inner sep=0pt,anchor=north west,text=ctext,align=left,font=\rcfont\fontsize{8}{9}\selectfont] (prac) at (1018,1493) {Practical Activities are taught in rotation.\\Each teaching group will study at least 2\\of the named activities each Term};
%% ===== RIGHT COLUMN =====
\rc{r1}{129}{\textbf{Sports}\\\textbf{Leadership}\\[4pt]A variety of\\Sport Leadership\\Opportunities}
\rc{r2}{226.5}{\textbf{Community}\\\textbf{Links}\\[4.2pt]Leamington RFC\\Rugby Coaching\\[4.1pt]School Games\\[4.1pt]Motionhouse\\Workshops}
\rc{r3}{353}{\textbf{Educational}\\\textbf{Visits}\\[5pt]Wimbledon\\[4.1pt]Theatre Visit\\[4.1pt]Sport Tour\\[4.1pt]Motionhouse\\[4.1pt]Ski Trip}
\rc{r4}{505}{\textbf{Duke of}\\\textbf{Edinburgh}\\[4.1pt]Bronze Award\\Skill / Physical\\/ Volunteering\\/ Expedition\\[4pt]Silver Award\\Skill / Physical\\/ Volunteering\\/ Expedition\\[4.1pt]Recruitment\\[4.1pt]Start E DofE\\[4.1pt]Navigation\\Training Day\\[4.1pt]Practice and\\Assessed\\Expeditions}
\rc{r5}{766}{\textbf{Colleges}\\[5.4pt]Inter-college\\competitions\\[4.1pt]Sports Day\\[4.1pt]Race for Life}
\rc{r6}{929}{\textbf{Competition}\\[4.1pt]Athletics\\[4.1pt]Tennis\\[4.1pt]Rounders\\[4.1pt]Cricket\\[4.1pt]Hockey\\[4.1pt]Football\\[4.1pt]Basketball\\[4.1pt]Rugby\\[4.1pt]Netball\\[4.1pt]Squash}
\rc{r7}{1154}{\textbf{Recreation}\\[4.1pt]Hockey\\[4.1pt]Football\\[4.1pt]Rugby\\[4.1pt]Basketball\\[4.1pt]Netball\\[4.1pt]Dance\\[4.1pt]Dance Club / Recital\\[4.1pt]Cheerleading\\[4.1pt]Badminton\\[4.1pt]Rounders\\[4.1pt]Tennis\\[4.1pt]Cricket\\[4.1pt]Boxing Fitness\\[4.1pt]Athletics\\[4.1pt]Softball\\[4.1pt]Ultimate Frisbee\\[4.1pt]Volleyball}
\end{tikzpicture}
\end{document}
